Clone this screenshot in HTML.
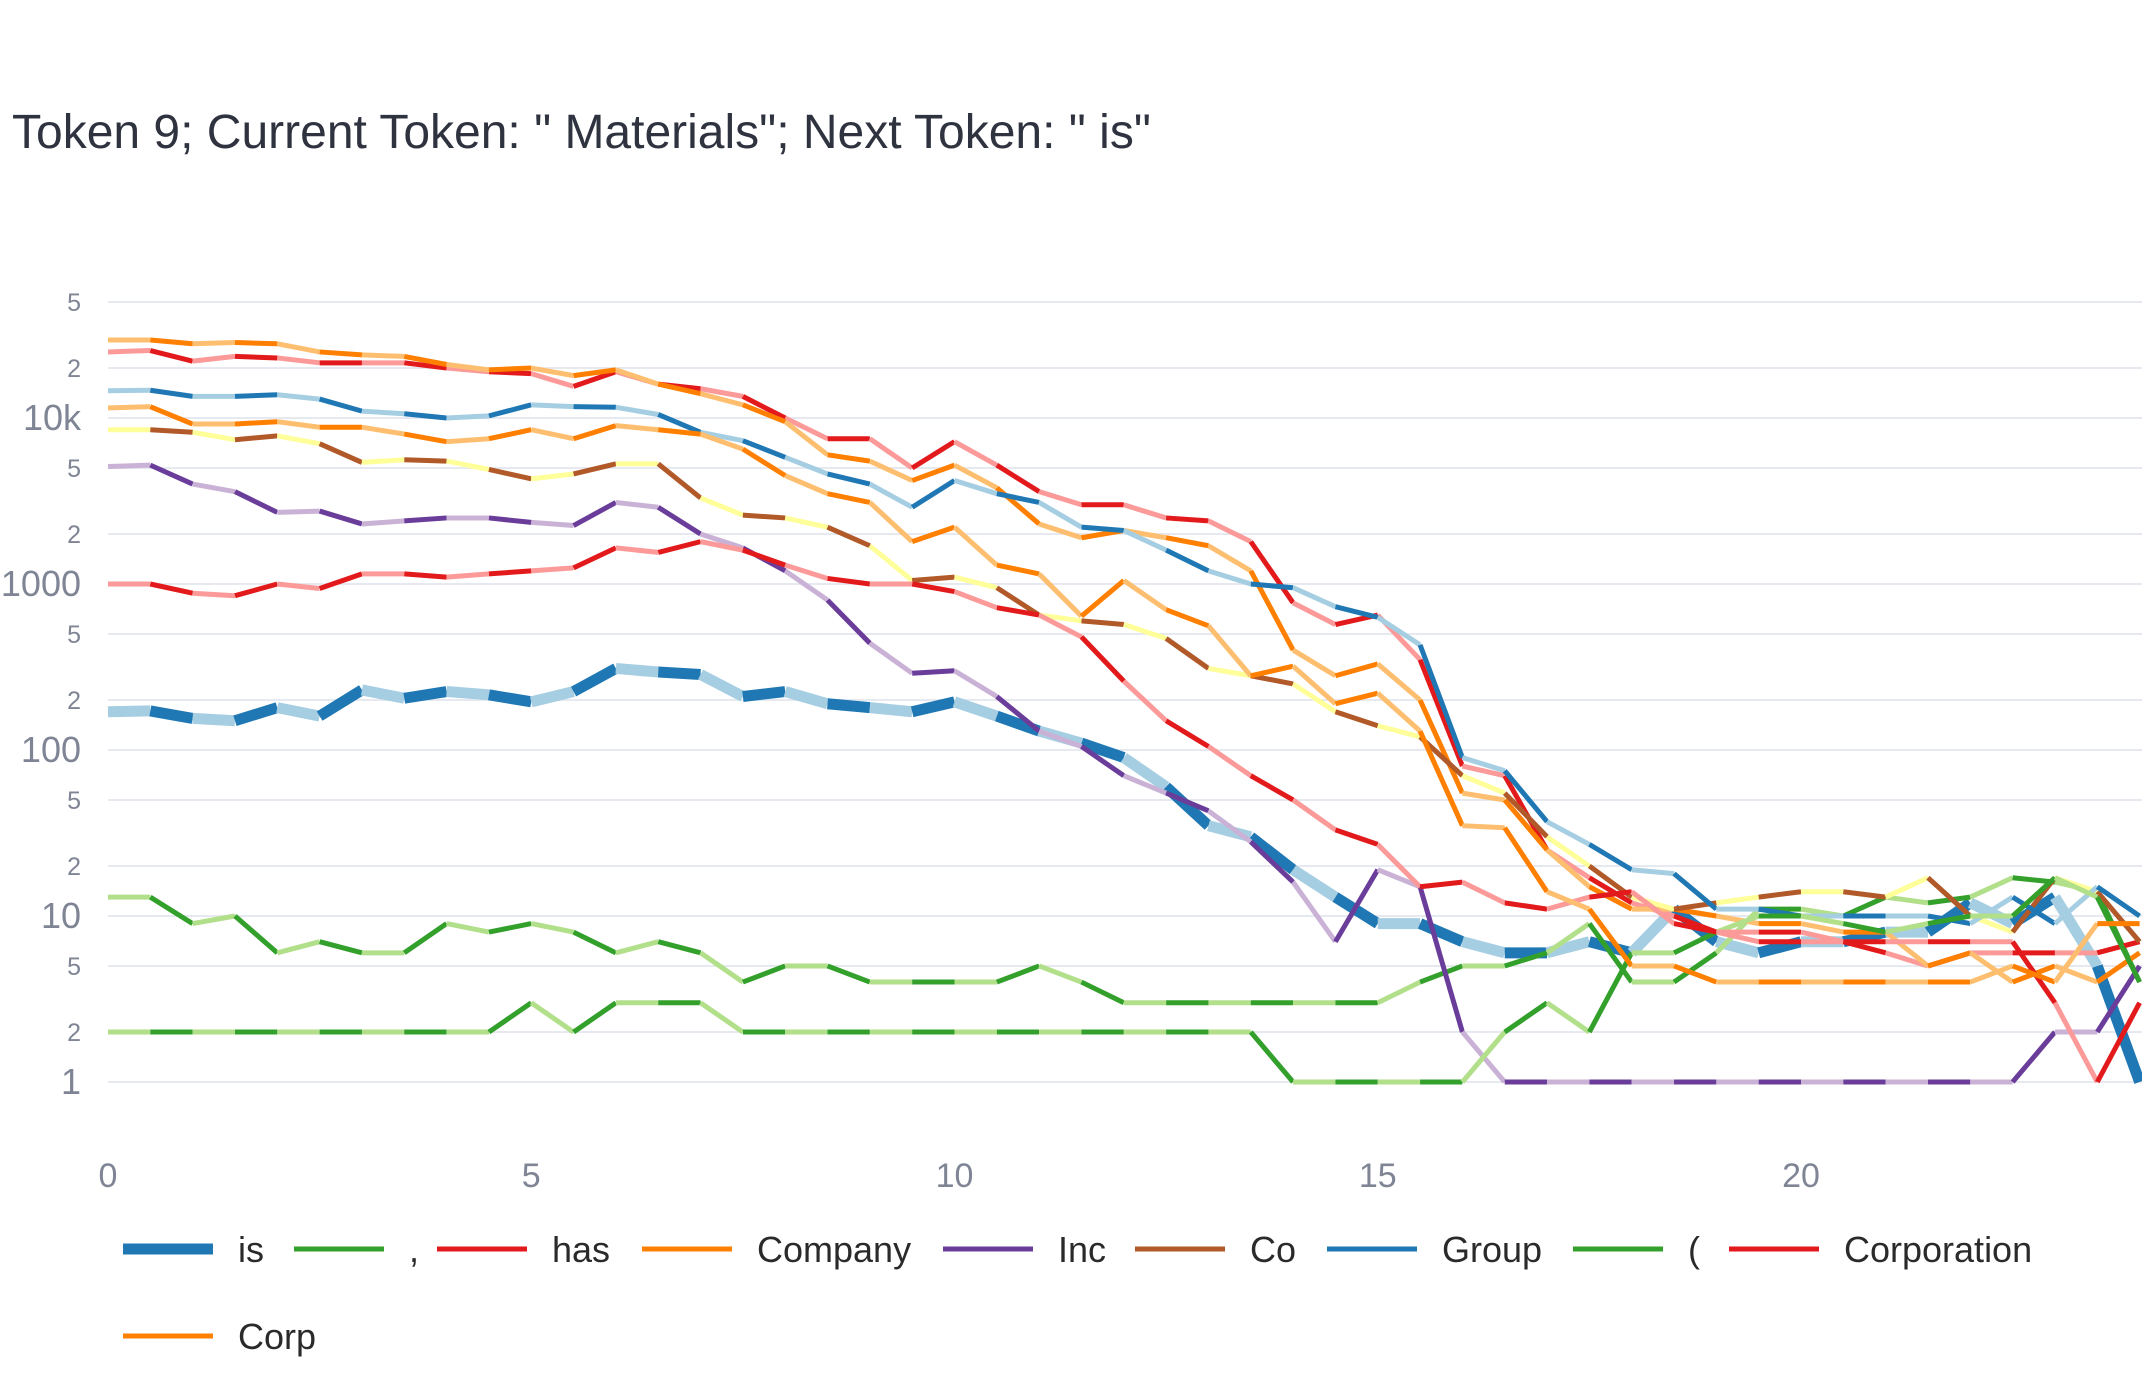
<!DOCTYPE html>
<html><head><meta charset="utf-8"><style>
html,body{margin:0;padding:0;background:#fff;}
svg{display:block;font-family:"Liberation Sans",Arial,sans-serif;}
</style></head><body>
<svg id="chart" width="2142" height="1380" viewBox="0 0 2142 1380" xmlns="http://www.w3.org/2000/svg">
<text x="12" y="148" font-size="48" fill="#2f3340">Token 9; Current Token: " Materials"; Next Token: " is"</text>
<g id="grid"></g>
<g id="yaxis"></g>
<g id="xaxis"></g>
<g id="plot"></g>
<g id="legend"></g>
</svg>
<script>
const seriesNames = ["is", ",", "has", "Company", "Inc", "Co", "Group", "(", "Corporation", "Corp"];
const darkColors = ["#1f78b4","#33a02c","#e31a1c","#ff7f00","#6a3d9a","#b15928","#1f78b4","#33a02c","#e31a1c","#ff7f00"];
const lightColors = ["#a6cee3","#b2df8a","#fb9a99","#fdbf6f","#cab2d6","#ffff99","#a6cee3","#b2df8a","#fb9a99","#fdbf6f"];
const xTicks = [0, 5, 10, 15, 20];
const yMajorTicks = [1, 10, 100, 1000, 10000];
const yMajorLabels = ["1", "10", "100", "1000", "10k"];
const yMinorTicks = [2, 5, 20, 50, 200, 500, 2000, 5000, 20000, 50000];
const yMinorLabels = ["2", "5", "2", "5", "2", "5", "2", "5", "2", "5"];

const sIs = [170,172,155,150,180,160,230,205,225,215,195,225,310,295,285,210,225,190,180,170,195,160,130,110,90,60,35,30,19,13,9,9,7,6,6,7,6,11,7,6,7,7,8,8,12,9,13,5,1];
const sComma = [13,13,9,10,6,7,6,6,9,8,9,8,6,7,6,4,5,5,4,4,4,4,5,4,3,3,3,3,3,3,3,4,5,5,6,9,4,4,6,11,11,10,13,12,13,17,16,14,4];
const sHas = [25000,25500,22000,23500,23000,21500,21500,21500,20000,19000,18500,15500,19000,16000,15000,13500,10000,7500,7500,5000,7200,5200,3600,3000,3000,2500,2400,1800,770,570,650,350,80,70,25,17,12,10,8,7,7,7,6,5,6,6,6,6,7];
const sCompany = [29500,29500,28000,28500,28000,25000,24000,23500,21000,19500,20000,18000,19500,16000,14000,12000,9500,6000,5500,4200,5200,3800,2300,1900,2100,1900,1700,1200,400,280,330,200,55,50,25,15,11,11,10,9,9,8,8,5,6,4,5,4,6];
const sInc = [5100,5200,4000,3600,2700,2750,2300,2400,2500,2500,2350,2250,3100,2900,2000,1650,1200,800,440,290,300,210,130,105,70,55,43,28,16,7,19,15,2,1,1,1,1,1,1,1,1,1,1,1,1,1,2,2,5];
const sCo = [8500,8500,8200,7400,7800,7000,5400,5600,5500,4900,4300,4600,5300,5300,3300,2600,2500,2200,1700,1050,1100,950,650,600,570,470,310,280,250,170,140,120,70,55,30,20,13,11,12,13,14,14,13,17,10,8,17,14,7];
const sGroup = [14600,14700,13500,13500,13800,13000,11000,10600,10000,10300,12000,11700,11600,10500,8200,7300,5800,4600,4000,2900,4200,3500,3100,2200,2100,1600,1200,1000,950,730,630,430,90,75,37,27,19,18,11,11,10,10,10,10,9,13,9,15,10];
const sParen = [2,2,2,2,2,2,2,2,2,2,3,2,3,3,3,2,2,2,2,2,2,2,2,2,2,2,2,2,1,1,1,1,1,2,3,2,6,6,8,10,10,9,8,9,10,10,17,13,4];
const sCorporation = [1000,1000,880,850,1000,940,1150,1150,1100,1150,1200,1250,1650,1550,1800,1600,1300,1080,1000,1000,900,720,650,480,260,150,105,70,50,33,27,15,16,12,11,13,14,9,8,8,8,7,7,7,7,7,3,1,3];
const sCorp = [11500,11700,9200,9200,9500,8800,8800,8000,7200,7500,8500,7500,9000,8500,8000,6500,4500,3500,3100,1800,2200,1300,1150,640,1050,700,560,280,320,190,220,130,35,34,14,11,5,5,4,4,4,4,4,4,4,5,4,9,9];
const allSeries = [sIs, sComma, sHas, sCompany, sInc, sCo, sGroup, sParen, sCorporation, sCorp];
const xStep = 0.5;

const NS = "http://www.w3.org/2000/svg";
const X0 = 108, XU = 84.65, Y1 = 1082, YD = 166;
function xs(v){ return X0 + v * XU; }
function ys(v){ return Y1 - YD * Math.log10(v); }
function mk(tag, attrs, parent){ const e = document.createElementNS(NS, tag); for (const k in attrs) e.setAttribute(k, attrs[k]); parent.appendChild(e); return e; }

const grid = document.getElementById('grid');
const yaxis = document.getElementById('yaxis');
const xaxis = document.getElementById('xaxis');
const plot = document.getElementById('plot');
const legend = document.getElementById('legend');

const allY = yMajorTicks.concat(yMinorTicks);
allY.forEach(v => {
  const l = mk('line', {x1: X0, x2: 2142, y1: ys(v), y2: ys(v), stroke: '#e6e9ef', 'stroke-width': 2}, grid);
  
  
});
yMajorTicks.forEach((v, i) => {
  const t = mk('text', {x: 81, y: ys(v) + 12, 'font-size': 36, fill: '#7f8594', 'text-anchor': 'end'}, yaxis);
  t.textContent = yMajorLabels[i];
  
  
});
yMinorTicks.forEach((v, i) => {
  const t = mk('text', {x: 81, y: ys(v) + 9, 'font-size': 25, fill: '#7f8594', 'text-anchor': 'end'}, yaxis);
  t.textContent = yMinorLabels[i];
  
  
});
xTicks.forEach(v => {
  const t = mk('text', {x: xs(v), y: 1187, 'font-size': 34, fill: '#7f8594', 'text-anchor': 'middle'}, xaxis);
  t.textContent = String(v);
  
  
});

allSeries.forEach((data, si) => {
  const g = mk('g', {}, plot);
  
  
  const w = si === 0 ? 11 : 5;
  for (let i = 0; i < data.length - 1; i++) {
    const seg = mk('line', {
      x1: xs(i * xStep), y1: ys(data[i]), x2: xs((i + 1) * xStep), y2: ys(data[i + 1]),
      stroke: i % 2 === 0 ? lightColors[si] : darkColors[si], 'stroke-width': w
    }, g);
    
    
  }
});

const legX = [123, 294, 437, 642, 943, 1135, 1327, 1573, 1729, 123];
const legRow = [0,0,0,0,0,0,0,0,0,1];
seriesNames.forEach((n, i) => {
  const y = legRow[i] ? 1336 : 1249;
  const g = mk('g', {}, legend);
  
  
  mk('line', {x1: legX[i], x2: legX[i] + 90, y1: y, y2: y, stroke: darkColors[i], 'stroke-width': i === 0 ? 11 : 5}, g);
  const t = mk('text', {x: legX[i] + 115, y: y + 13, 'font-size': 36, fill: '#2a2a2a'}, g);
  t.textContent = n;
});
</script>
</body></html>
